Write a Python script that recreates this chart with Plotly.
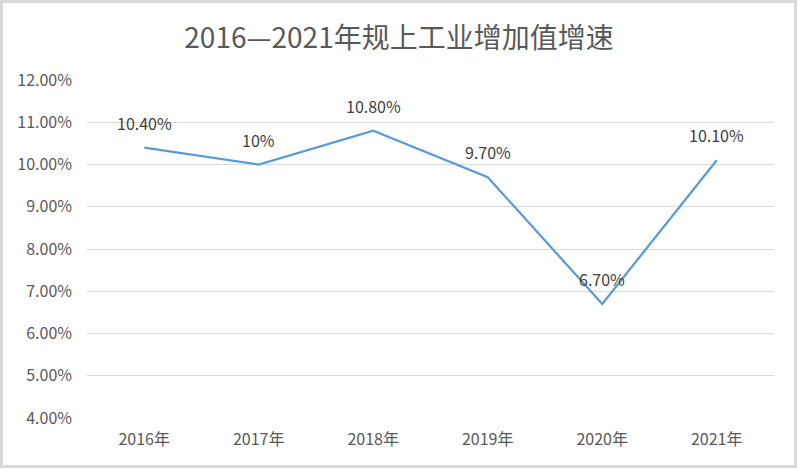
import plotly.graph_objects as go

years = ["2016年", "2017年", "2018年", "2019年", "2020年", "2021年"]
growth = [0.104, 0.100, 0.108, 0.097, 0.067, 0.101]
labels = ["10.40%", "10%", "10.80%", "9.70%", "6.70%", "10.10%"]
y_ticks = [0.04, 0.05, 0.06, 0.07, 0.08, 0.09, 0.10, 0.11, 0.12]

W, H = 798, 469
ml, mr, mt, mb = 87, 24, 80, 51
pw, ph = W - ml - mr, H - mt - mb

fig = go.Figure()
fig.add_trace(go.Scatter(
    x=years, y=growth, mode="lines",
    line=dict(color="#5B9BD5", width=2.25),
    hoverinfo="skip",
))

# data labels above each point
for yr, v, t in zip(years, growth, labels):
    fig.add_annotation(x=yr, y=v, text=t, showarrow=False, yshift=25,
                       font=dict(size=16, color="#404040"))

# outer chart border
fig.add_shape(type="rect", xref="paper", yref="paper",
              x0=-(ml - 1.5) / pw, x1=1 + (mr - 2.5) / pw,
              y0=-(mb - 2.5) / ph, y1=1 + (mt - 1.5) / ph,
              line=dict(color="#D9D9D9", width=3))

fig.update_layout(
    width=W, height=H,
    margin=dict(l=ml, r=mr, t=mt, b=mb),
    paper_bgcolor="white", plot_bgcolor="white",
    font=dict(family="Noto Sans CJK SC", color="#595959", size=16),
    title=dict(text="2016—2021年规上工业增加值增速", x=0.5, xanchor="center",
               y=1 - 38 / H, yanchor="middle",
               font=dict(size=28, color="#595959")),
    showlegend=False,
    xaxis=dict(range=[-0.5, 5.5], showgrid=False, showline=False, zeroline=False,
               tickfont=dict(size=16, color="#595959"), ticks="",
               ticklabelstandoff=10, automargin=False),
    yaxis=dict(range=[0.04, 0.12], tickvals=y_ticks, tickformat=".2%",
               showgrid=True, gridcolor="#D9D9D9", gridwidth=1,
               zeroline=False, showline=False, ticks="",
               ticklabelstandoff=14, automargin=False,
               tickfont=dict(size=16, color="#595959")),
)

fig.write_html("out.html", config={"displayModeBar": False},
               post_script="document.body.style.margin='0';")
